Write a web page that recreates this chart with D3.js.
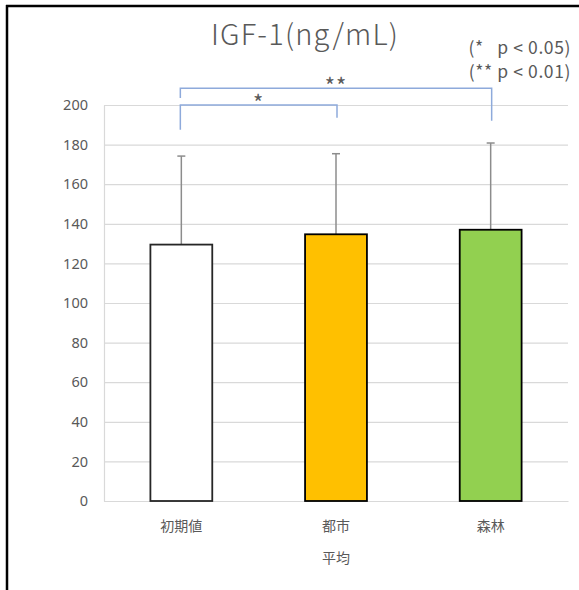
<!DOCTYPE html>
<html>
<head>
<meta charset="utf-8">
<script src="https://cdn.jsdelivr.net/npm/d3@7"></script>
<style>
  html, body { margin: 0; padding: 0; background: #fff; }
  svg { display: block; }
  text { font-family: "Noto Sans CJK JP", "Noto Sans", sans-serif; fill: #595959; }
</style>
</head>
<body>
<svg id="chart" width="579" height="590"></svg>
<script>
// Mean IGF-1 per condition, with SD shown as an upper error bar
const categories = ["初期値", "都市", "森林"];
const means = [129.5, 134.7, 137.0];
const sds = [44.7, 40.7, 43.8];
const fills = ["#ffffff", "#ffc000", "#92d050"];
const yTicks = [0, 20, 40, 60, 80, 100, 120, 140, 160, 180, 200];

// Significance brackets: [from index, to index, bar level, left leg end, right leg end, label]
const bracketFrom = [0, 0];
const bracketTo = [1, 2];
const bracketLevel = [200, 208.5];
const bracketLeftEnd = [187.5, 203.5];
const bracketRightEnd = [193.5, 192];
const bracketLabel = ["*", "**"];

const legendLines = ["(*   p < 0.05)", "(** p < 0.01)"];

const svg = d3.select("#chart");
const margin = { left: 104, right: 11, top: 105, bottom: 89 };
const W = 579, H = 590;

const x = d3.scaleBand()
  .domain(categories)
  .range([margin.left, W - margin.right])
  .paddingInner(0.6)
  .paddingOuter(0.3);

const y = d3.scaleLinear()
  .domain([0, 200])
  .range([H - margin.bottom, margin.top]);

// Outer frame (left and top edges visible)
svg.append("line").attr("x1", 7).attr("x2", 7).attr("y1", 5).attr("y2", H)
  .attr("stroke", "#000").attr("stroke-width", 2.5);
svg.append("line").attr("x1", 6).attr("x2", W).attr("y1", 6).attr("y2", 6)
  .attr("stroke", "#000").attr("stroke-width", 2.5);

// Title
svg.append("text")
  .attr("x", 305).attr("y", 45)
  .attr("text-anchor", "middle")
  .style("font-size", "29px")
  .style("font-weight", "300")
  .style("letter-spacing", "1.2px")
  .attr("fill", "#404040")
  .text("IGF-1(ng/mL)");

// Gridlines
svg.append("g").selectAll("line")
  .data(yTicks)
  .join("line")
  .attr("x1", margin.left).attr("x2", W - margin.right)
  .attr("y1", d => y(d) + 0.5).attr("y2", d => y(d) + 0.5)
  .attr("stroke", "#d9d9d9").attr("stroke-width", 1.2);

// Y axis
const yAxis = svg.append("g")
  .attr("transform", `translate(${margin.left},0)`)
  .call(d3.axisLeft(y).tickValues(yTicks).tickSize(0).tickPadding(16));
yAxis.select(".domain").attr("stroke", "#d9d9d9").attr("stroke-width", 1.2);
yAxis.selectAll("text")
  .style("font-family", "'Noto Sans', sans-serif")
  .style("font-size", "14.5px").attr("fill", "#595959");

// X axis
const xAxis = svg.append("g")
  .attr("transform", `translate(0,${y(0)})`)
  .call(d3.axisBottom(x).tickSize(0).tickPadding(20));
xAxis.select(".domain").attr("stroke", "#d9d9d9").attr("stroke-width", 1.2);
xAxis.selectAll("text").style("font-size", "14px").attr("fill", "#595959");

svg.append("text")
  .attr("x", x.range()[0] + (x.range()[1] - x.range()[0]) / 2)
  .attr("y", 563)
  .attr("text-anchor", "middle")
  .style("font-size", "14px")
  .text("平均");

// Error bars (upper whisker only)
const cx = i => x(categories[i]) + x.bandwidth() / 2;
const eb = svg.append("g");
eb.selectAll("line.whisker")
  .data(means)
  .join("line")
  .attr("class", "whisker")
  .attr("x1", (d, i) => cx(i)).attr("x2", (d, i) => cx(i))
  .attr("y1", d => y(d)).attr("y2", (d, i) => y(d + sds[i]))
  .attr("stroke", "#8c8c8c").attr("stroke-width", 1.5);
eb.selectAll("line.cap")
  .data(means)
  .join("line")
  .attr("class", "cap")
  .attr("x1", (d, i) => cx(i) - 4).attr("x2", (d, i) => cx(i) + 4)
  .attr("y1", (d, i) => y(d + sds[i])).attr("y2", (d, i) => y(d + sds[i]))
  .attr("stroke", "#8c8c8c").attr("stroke-width", 1.5);

// Bars
svg.append("g").selectAll("rect")
  .data(means)
  .join("rect")
  .attr("x", (d, i) => x(categories[i]))
  .attr("y", d => y(d))
  .attr("width", x.bandwidth())
  .attr("height", d => y(0) - y(d))
  .attr("fill", (d, i) => fills[i])
  .attr("stroke", (d, i) => i === 0 ? "#262626" : "#000")
  .attr("stroke-width", 1.8);

// Significance brackets
const br = svg.append("g");
bracketLevel.forEach((lvl, k) => {
  const x1 = cx(bracketFrom[k]) - 1, x2 = cx(bracketTo[k]) + 1;
  br.append("path")
    .attr("d", `M${x1},${y(bracketLeftEnd[k])}V${y(lvl)}H${x2}V${y(bracketRightEnd[k])}`)
    .attr("fill", "none")
    .attr("stroke", "#8eaadb")
    .attr("stroke-width", 1.5);
  br.append("text")
    .attr("x", (x1 + x2) / 2)
    .attr("y", y(lvl) + 6)
    .attr("text-anchor", "middle")
    .style("font-size", "22px")
    .style("letter-spacing", "1px")
    .attr("fill", "#404040")
    .text(bracketLabel[k]);
});

// Significance legend
svg.append("g").selectAll("text")
  .data(legendLines)
  .join("text")
  .attr("x", 571)
  .attr("y", (d, i) => 54 + i * 24)
  .attr("text-anchor", "end")
  .attr("xml:space", "preserve")
  .style("white-space", "pre")
  .style("font-family", "'Noto Sans CJK JP', sans-serif")
  .style("font-size", "17.5px")
  .style("letter-spacing", "0.6px")
  .attr("fill", "#595959")
  .text(d => d);
</script>
</body>
</html>
